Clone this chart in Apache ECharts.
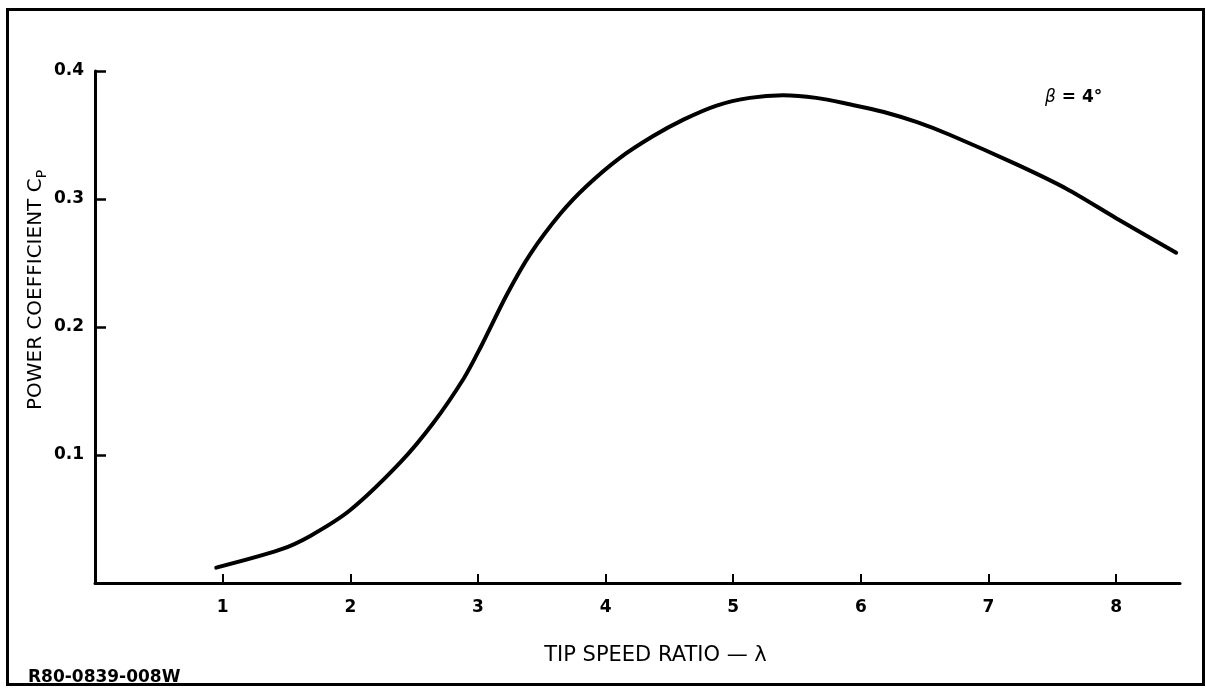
<!DOCTYPE html>
<html>
<head>
<meta charset="utf-8">
<script src="https://cdn.jsdelivr.net/npm/echarts@6/dist/echarts.min.js"></script>
<style>
  html, body { margin: 0; padding: 0; background: #fff; }
  #chart { width: 1206px; height: 688px; }
</style>
</head>
<body>
<div id="chart"></div>
<script>
// Tip speed ratio (lambda) and power coefficient Cp, blade pitch 4 degrees
const tipSpeedRatio = [0.95, 1.45, 1.69, 2.0, 2.39, 2.65, 2.89, 3.02, 3.23, 3.41, 3.65, 3.85, 4.11, 4.37, 4.61, 4.87, 5.13, 5.39, 5.65, 5.91, 6.18, 6.44, 6.70, 7.22, 7.61, 8.0, 8.47];
const powerCoefficient = [0.012, 0.026, 0.037, 0.057, 0.094, 0.125, 0.160, 0.184, 0.226, 0.257, 0.289, 0.310, 0.332, 0.349, 0.362, 0.373, 0.379, 0.381, 0.379, 0.374, 0.368, 0.360, 0.350, 0.327, 0.308, 0.285, 0.258];
const yTickLabels = ['0.1', '0.2', '0.3', '0.4'];
const xTickLabels = ['1', '2', '3', '4', '5', '6', '7', '8'];

const FONT = 'DejaVu Sans';
const curve = tipSpeedRatio.map((x, i) => [x, powerCoefficient[i]]);
const xTickValues = xTickLabels.map(Number);
const yTickValues = yTickLabels.map(Number);

const chart = echarts.init(document.getElementById('chart'), null, { renderer: 'canvas' });
chart.setOption({
  animation: false,
  backgroundColor: '#ffffff',
  grid: { left: 95, top: 71, width: 1085, height: 512, containLabel: false, outerBoundsMode: 'none' },
  xAxis: {
    type: 'value',
    min: 0, max: 8.5, interval: 1,
    name: 'TIP SPEED RATIO \u2014 \u03bb',
    nameLocation: 'middle',
    nameGap: 62,
    nameTextStyle: { fontFamily: FONT, fontSize: 21, color: '#000', padding: [0, 0, 0, 36] },
    axisLine: { show: true, onZero: false, lineStyle: { color: '#000', width: 3 } },
    axisTick: { show: true, inside: true, length: 9, customValues: xTickValues, lineStyle: { color: '#000', width: 2 } },
    axisLabel: {
      margin: 16,
      customValues: xTickValues,
      fontFamily: FONT, fontSize: 17, fontWeight: 'bold', color: '#000',
      formatter: v => xTickLabels[Math.round(v) - 1]
    },
    splitLine: { show: false }
  },
  yAxis: {
    type: 'value',
    min: 0, max: 0.4, interval: 0.1,
    axisLine: { show: true, onZero: false, lineStyle: { color: '#000', width: 3 } },
    axisTick: { show: true, inside: true, length: 11, customValues: yTickValues, lineStyle: { color: '#000', width: 2.5 } },
    axisLabel: {
      margin: 11,
      customValues: yTickValues,
      fontFamily: FONT, fontSize: 17, fontWeight: 'bold', color: '#000',
      formatter: v => yTickLabels[Math.round(v * 10) - 1]
    },
    splitLine: { show: false }
  },
  series: [{
    type: 'line',
    data: curve,
    smooth: 0.3,
    showSymbol: false,
    lineStyle: { color: '#000', width: 4, cap: 'round' }
  }],
  graphic: [
    {
      type: 'rect',
      shape: { x: 7.5, y: 9.5, width: 1196, height: 675 },
      style: { fill: null, stroke: '#000', lineWidth: 3 },
      silent: true
    },
    {
      type: 'text',
      x: 36, y: 290,
      rotation: Math.PI / 2,
      style: {
        text: 'POWER COEFFICIENT C{sub|P}',
        fontFamily: FONT, fontSize: 20, fill: '#000',
        align: 'center', verticalAlign: 'middle',
        rich: { sub: { fontFamily: FONT, fontSize: 14, fill: '#000', padding: [12, 0, 0, 0] } }
      }
    },
    {
      type: 'text',
      x: 1045, y: 98,
      style: {
        text: '{g|\u03b2} = 4\u00b0',
        fontFamily: FONT, fontSize: 17, fontWeight: 'bold', fill: '#000',
        align: 'left', verticalAlign: 'middle',
        rich: { g: { fontFamily: FONT, fontSize: 17, fontStyle: 'italic', fill: '#000' } }
      }
    },
    {
      type: 'text',
      x: 28, y: 678,
      style: {
        text: 'R80-0839-008W',
        fontFamily: FONT, fontSize: 17, fontWeight: 'bold', fill: '#000',
        align: 'left', verticalAlign: 'middle'
      }
    }
  ]
});
</script>
</body>
</html>
